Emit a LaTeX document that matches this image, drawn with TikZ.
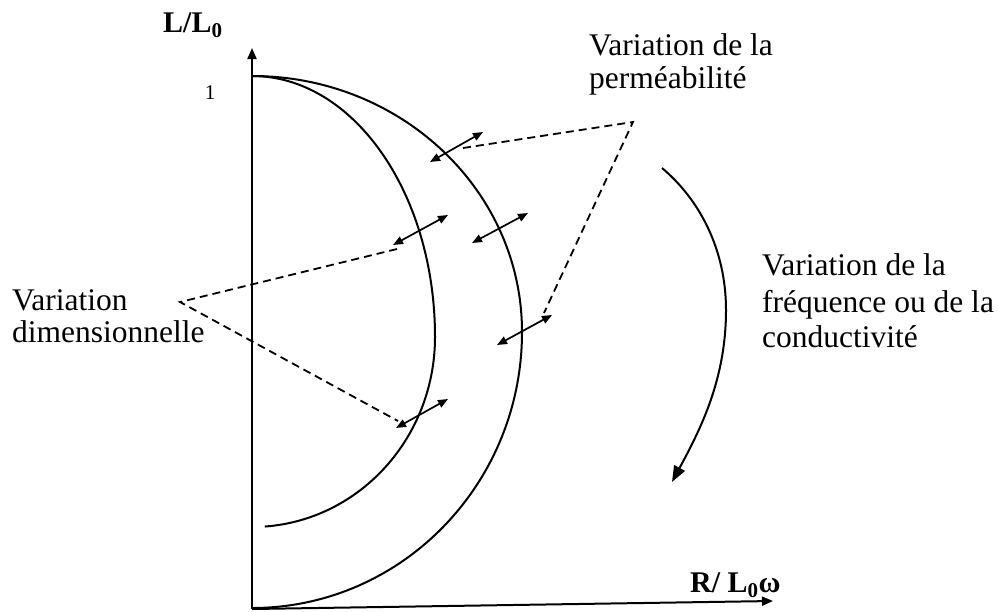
\documentclass[tikz,border=0pt]{standalone}
\usepackage{fontspec}
\setmainfont{Liberation Serif}
\usetikzlibrary{arrows.meta}
\begin{document}
\begin{tikzpicture}[x=1pt,y=-1pt,
  curve/.style={line width=2pt},
  axisline/.style={line width=2pt,-{Triangle[length=11pt,width=9pt]}},
  dbl/.style={line width=1.7pt,{Triangle[length=10pt,width=8pt]}-{Triangle[length=10pt,width=8pt]}},
  dashline/.style={line width=1.8pt,dash pattern=on 8pt off 5pt},
  lbl/.style={inner sep=0pt,anchor=base west,font=\fontsize{31.5}{36}\selectfont},
  axlbl/.style={inner sep=0pt,anchor=base west,font=\fontsize{30}{34}\selectfont\bfseries}]
\useasboundingbox (0,0) rectangle (998,611);

% axes
\coordinate (O) at (252,609);
\coordinate (Ytop) at (252,48);
\coordinate (Xend) at (773,601);
\draw[axisline] (O) -- (Ytop);
\draw[axisline] (O) -- (Xend);

\node[axlbl] (ylab) at (163,32) {L/L\textsubscript{0}};
\node[axlbl] (xlab) at (690,592) {R/ L\textsubscript{0}ω};
\node[inner sep=0pt,font=\fontsize{21}{24}\selectfont] (one) at (210,93) {1};

% curves
\coordinate (C0) at (252,76);
\draw[curve] (C0) arc[start angle=-90,end angle=0,x radius=270,y radius=256]
                  arc[start angle=0,end angle=90,x radius=270,y radius=276];
\draw[curve] (C0) arc[start angle=-90,end angle=0,x radius=183,y radius=261]
                  arc[start angle=0,end angle=86,x radius=183,y radius=190];

% double arrows
\coordinate (a1s) at (430,162); \coordinate (a1e) at (483,132);
\coordinate (a2s) at (393,245); \coordinate (a2e) at (448,215);
\coordinate (a3s) at (472,243); \coordinate (a3e) at (528,213);
\coordinate (a4s) at (497,345); \coordinate (a4e) at (552,315);
\coordinate (a5s) at (396,428); \coordinate (a5e) at (448,399);
\draw[dbl] (a1s) -- (a1e);
\draw[dbl] (a2s) -- (a2e);
\draw[dbl] (a3s) -- (a3e);
\draw[dbl] (a4s) -- (a4e);
\draw[dbl] (a5s) -- (a5e);

% dashed leaders
\coordinate (PL) at (180,302);
\coordinate (PR) at (633,122);
\coordinate (d2) at (397,249);
\coordinate (d5) at (398,421);
\coordinate (d1) at (463,148);
\coordinate (d4) at (544,313);
\draw[dashline] (d2) -- (PL) -- (d5);
\draw[dashline] (d1) -- (PR) -- (d4);

% frequency arrow
\coordinate (fa) at (662,168);
\coordinate (fm) at (726,310);
\coordinate (fb) at (672,482);
\draw[line width=2pt,-{Triangle[length=16pt,width=12pt]}]
  (fa) .. controls (700,200) and (726,250) .. (fm)
       .. controls (726,380) and (700,430) .. (fb);

% labels
\node[lbl] (p1) at (589,55) {Variation de la};
\node[lbl] (p2) at (589,88) {perméabilité};
\node[lbl] (v1) at (12,310) {Variation};
\node[lbl] (v2) at (12,342) {dimensionnelle};
\node[lbl] (f1) at (762,275) {Variation de la};
\node[lbl] (f2) at (762,312) {fréquence ou de la};
\node[lbl] (f3) at (762,347) {conductivité};
\end{tikzpicture}
\end{document}
